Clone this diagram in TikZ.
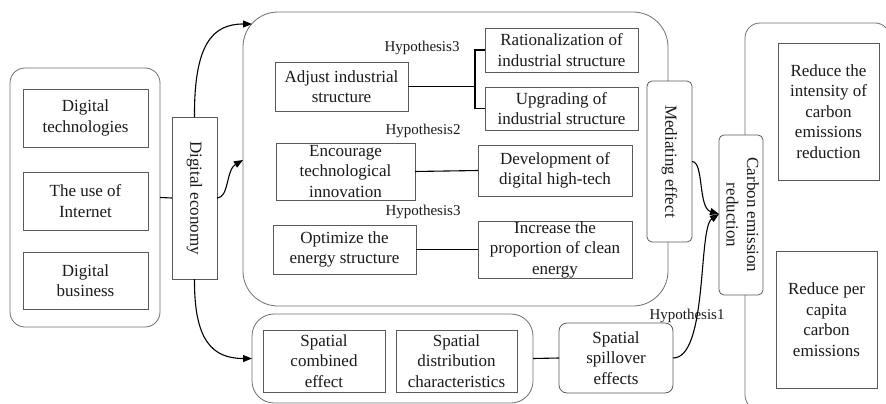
\documentclass[tikz,border=0pt]{standalone}
\usepackage{fontspec}
\setmainfont{Liberation Serif}
\newfontfamily\tnr{Liberation Serif}
\usetikzlibrary{arrows.meta}
\definecolor{edge}{HTML}{5A5A5A}
\definecolor{frame}{HTML}{6E6E6E}
\definecolor{ink}{HTML}{1A1A1A}

\begin{document}
\begin{tikzpicture}[x=1pt,y=-1pt,
  every node/.style={font=\tnr\fontsize{17}{20.5}\selectfont, text=ink, inner sep=0pt, outer sep=0pt},
  container/.style={draw=frame, line width=0.8pt, rounded corners=15pt},
  box/.style={draw=edge, line width=0.8pt, align=center, fill=white},
  vbox/.style={draw=edge, line width=0.8pt, fill=white},
  hyp/.style={font=\tnr\fontsize{15}{18}\selectfont},
  link/.style={draw=black, line width=1.1pt},
  arr/.style={link, -{Triangle[length=9pt,width=7pt]}},
]
\useasboundingbox (0,0) rectangle (886,404);
\clip (0,0) rectangle (886,404);

% ---- group frames ----
\node[container, minimum width=150pt, minimum height=259pt] (L) at (85,197.5) {};
\node[container, rounded corners=35pt, minimum width=425pt, minimum height=294pt] (M) at (455.5,159) {};
\node[container, rounded corners=22pt, minimum width=281pt, minimum height=89pt] (S) at (392.5,358.5) {};
\node[container, minimum width=145pt, minimum height=387pt] (R) at (817.5,216.5) {};

% ---- digital economy inputs ----
\node[box, minimum width=125pt, minimum height=58pt] (DT) at (85.5,118) {Digital\\technologies};
\node[box, minimum width=125pt, minimum height=58pt] (UI) at (85.5,201) {The use of\\Internet};
\node[box, minimum width=125pt, minimum height=57pt] (DB) at (85.5,280.5) {Digital\\business};

\node[vbox, minimum width=45pt, minimum height=162pt] (DE) at (194.5,198) {\rotatebox[origin=c]{-90}{Digital economy}};

% ---- mediating channels ----
\node[box, minimum width=133pt, minimum height=49pt] (AIS) at (341.5,86.5) {Adjust industrial\\structure};
\node[box, minimum width=153pt, minimum height=44pt] (RIS) at (561.5,50) {Rationalization of\\industrial structure};
\node[box, minimum width=153pt, minimum height=43pt] (UIS) at (561.5,108.5) {Upgrading of\\industrial structure};

\node[box, minimum width=139pt, minimum height=57pt] (ETI) at (345.5,171.5) {Encourage\\technological\\innovation};
\node[box, minimum width=154pt, minimum height=51pt] (DDH) at (555,170.5) {Development of\\digital high-tech};

\node[box, minimum width=143pt, minimum height=49pt] (OES) at (344.5,249.5) {Optimize the\\energy structure};
\node[box, minimum width=154pt, minimum height=57pt] (ICE) at (555,249.5) {Increase the\\proportion of clean\\energy};

\node[hyp] (H3a) at (422,48) {Hypothesis3};
\node[hyp] (H2) at (423,131) {Hypothesis2};
\node[hyp] (H3b) at (423,212) {Hypothesis3};

\node[vbox, rounded corners=5pt, minimum width=45pt, minimum height=161pt] (ME) at (669.5,161.5) {\rotatebox[origin=c]{-90}{Mediating effect}};

% ---- spatial channel ----
\node[box, minimum width=122pt, minimum height=62pt] (SCE) at (324,361) {Spatial\\combined\\effect};
\node[box, minimum width=121pt, minimum height=62pt] (SDC) at (456.5,361) {Spatial\\distribution\\characteristics};
\node[box, rounded corners=8pt, minimum width=114pt, minimum height=70pt] (SSE) at (616,358) {Spatial\\spillover\\effects};
\node[hyp] (H1) at (687,316) {Hypothesis1};

% ---- outcome ----
\node[vbox, rounded corners=5pt, minimum width=44pt, minimum height=160pt] (CER) at (741,215)
  {\rotatebox[origin=c]{-90}{\begin{tabular}{@{}c@{}}Carbon emission\\reduction\end{tabular}}};
\node[box, minimum width=101pt, minimum height=137pt] (RIT) at (828.5,111.5) {Reduce the\\intensity of\\carbon\\emissions\\reduction};
\node[box, minimum width=101pt, minimum height=137pt] (RPC) at (826.5,319.5) {Reduce per\\capita\\carbon\\emissions};

% ---- entry points on rounded frames ----
\coordinate (mTop) at (252,24);
\coordinate (mMid) at (243,160);
\coordinate (sIn) at (252,358.5);
\coordinate (cIn) at (719,214);
\coordinate (br) at (475,86.5);

% ---- connectors ----
\draw[link] (L.east) -- (DE.west);
\draw[arr] (DE.north) .. controls (194,45) and (212,24) .. (mTop);
\draw[arr] (DE.east) .. controls (229,198) and (226,170) .. (mMid);
\draw[arr] (DE.south) .. controls (194,340) and (212,358.5) .. (sIn);

\draw[link] (AIS.east) -- (br);
\draw[link] (RIS.west) -| (br) |- (UIS.west);
\draw[link] (ETI.east) -- (DDH.west);
\draw[link] (OES.east) -- (ICE.west);

\draw[link] (S.east) -- (SSE.west);
\draw[arr] (ME.east) .. controls (704,161.5) and (698,208) .. (cIn);
\draw[arr] (SSE.east) .. controls (708,358) and (698,228) .. (cIn);
\end{tikzpicture}
\end{document}
